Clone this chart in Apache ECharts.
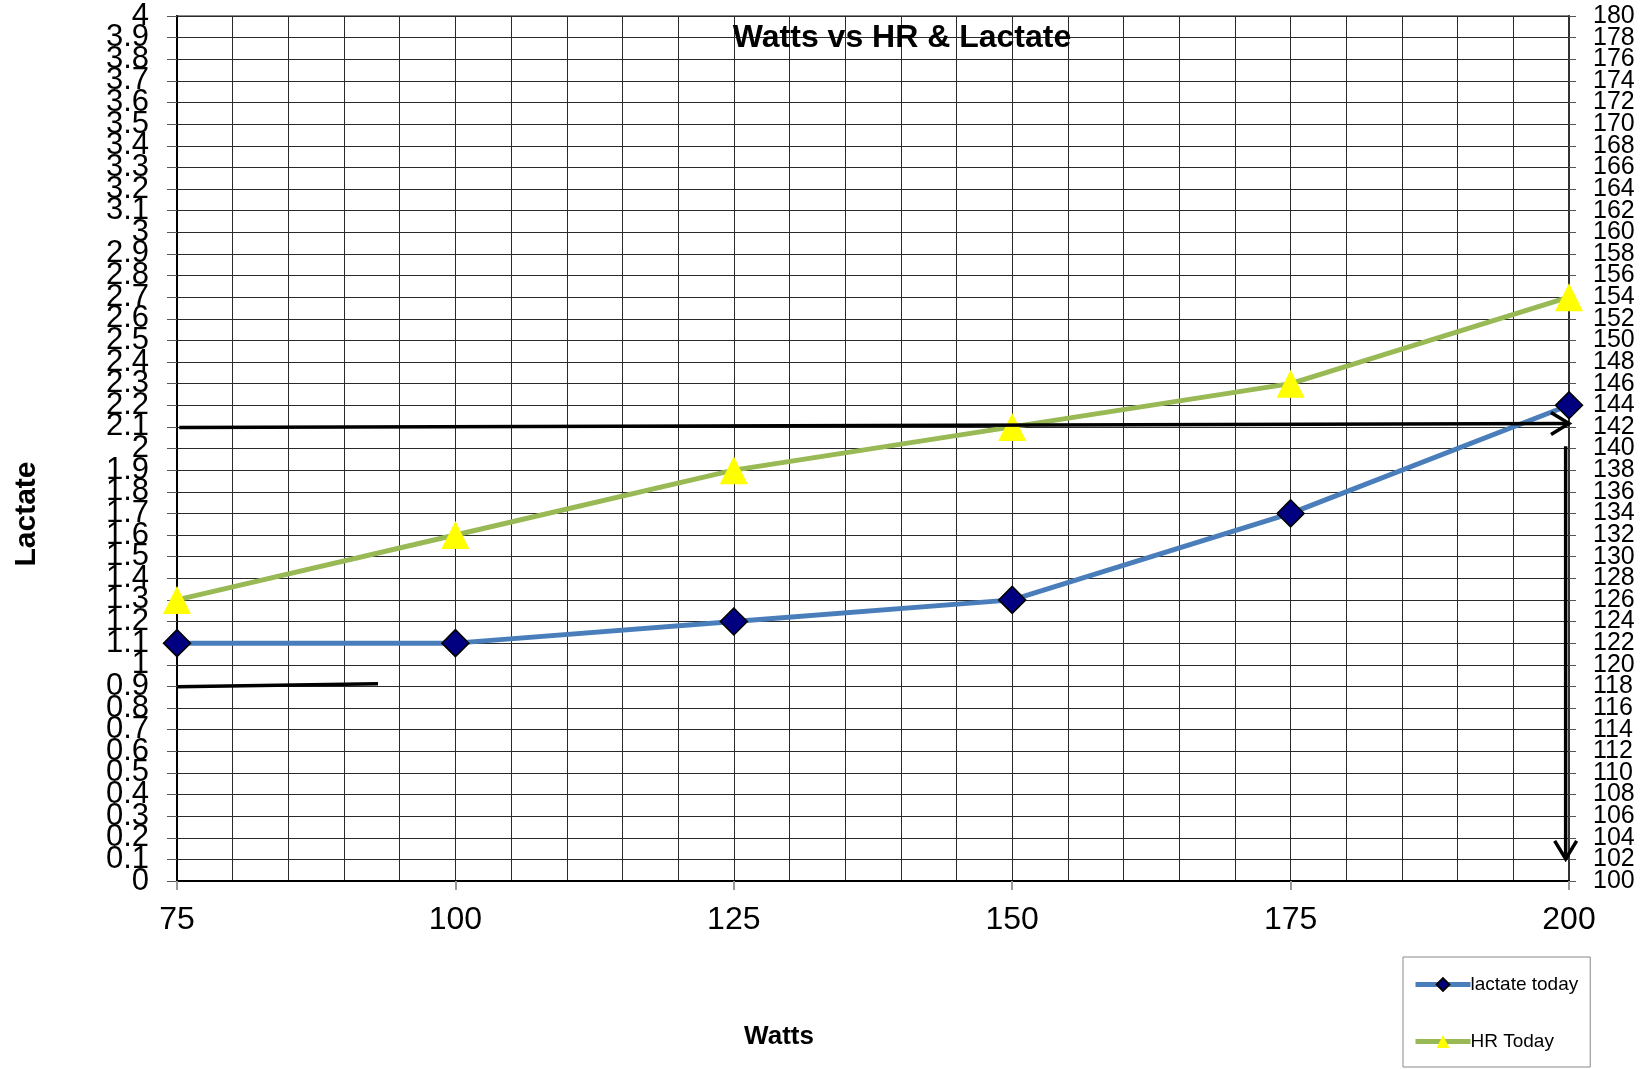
<!DOCTYPE html>
<html>
<head>
<meta charset="utf-8">
<script src="https://cdn.jsdelivr.net/npm/echarts@6/dist/echarts.min.js"></script>
<style>
html,body{margin:0;padding:0;background:#fff;}
#chart{width:1645px;height:1069px;}
</style>
</head>
<body>
<div id="chart"></div>
<script>
// ---- data ----
const watts = [75, 100, 125, 150, 175, 200];
const lactateToday = [1.1, 1.1, 1.2, 1.3, 1.7, 2.2];
const hrToday = [126, 132, 138, 142, 146, 154];
const seriesNames = ['lactate today', 'HR Today'];
const titleText = 'Watts vs HR & Lactate';
const xName = 'Watts';
const yName = 'Lactate';
const lactateRange = [0, 4];   // left axis min / max, step 0.1
const hrRange = [100, 180];    // right axis min / max, step 2
// hand-drawn annotation lines: [x1, y1, x2, y2, hasArrow] (data units: watts, lactate)
const annoLines = [
  [75.2, 2.097, 200, 2.116, 1],
  [199.7, 2.01, 199.7, 0.102, 1],
  [75, 0.898, 93.05, 0.912, 0]
];

const FONT = "'Liberation Sans', Arial, sans-serif";
const chart = echarts.init(document.getElementById('chart'), null, {renderer: 'canvas'});

const fmtL = v => String(+v.toFixed(1));
const isEnd = (v, r) => Math.abs(v - r[0]) < 1e-6 || Math.abs(v - r[1]) < 1e-6;

const leftLabel = {fontSize: 31, color: '#000', margin: 28, fontFamily: FONT, hideOverlap: false};
const rightLabel = {fontSize: 25, color: '#000', margin: 24, fontFamily: FONT, hideOverlap: false};

const option = {
  backgroundColor: '#ffffff',
  animation: false,
  textStyle: {fontFamily: FONT},
  grid: {left: 177, right: 76, top: 16, bottom: 188, show: true, borderColor: '#888', borderWidth: 2},
  graphic: [
    {type: 'text', x: 902, y: 38, z: 10, style: {text: titleText, font: "bold 32px " + FONT, fill: '#000', align: 'center', verticalAlign: 'middle'}},
    {type: 'text', x: 779, y: 1037, style: {text: xName, font: "bold 26px " + FONT, fill: '#000', align: 'center', verticalAlign: 'middle'}},
    {type: 'text', x: 27, y: 514, rotation: Math.PI / 2, style: {text: yName, font: "bold 30px " + FONT, fill: '#000', align: 'center', verticalAlign: 'middle'}}
  ],
  legend: {
    data: seriesNames,
    orient: 'vertical',
    left: 1403, top: 957,
    padding: [18, 12, 16, 10],
    itemWidth: 55, itemHeight: 16, itemGap: 38,
    borderColor: '#888', borderWidth: 1,
    lineStyle: {width: 5},
    textStyle: {fontSize: 19, color: '#000', fontFamily: FONT, padding: [0, 0, 0, -5]},
  },
  xAxis: {
    type: 'value', min: 75, max: 200, interval: 25,
    axisLine: {show: true, lineStyle: {color: '#000', width: 2}},
    axisTick: {show: true, length: 9, inside: false, lineStyle: {color: '#999', width: 2}},
    axisLabel: {fontSize: 32, color: '#000', margin: 23, fontFamily: FONT, showMinLabel: true, showMaxLabel: true},
    splitLine: {show: true, lineStyle: {color: '#2a2a2a', width: 1}},
    minorTick: {show: false, splitNumber: 5},
    minorSplitLine: {show: true, lineStyle: {color: '#2a2a2a', width: 1}}
  },
  yAxis: [
    {
      type: 'value', position: 'left', min: lactateRange[0], max: lactateRange[1], interval: 0.1,
      axisLine: {show: true, lineStyle: {color: '#000', width: 2}},
      axisTick: {show: true, length: 10, lineStyle: {color: '#555', width: 1}},
      axisLabel: Object.assign({}, leftLabel, {formatter: v => isEnd(v, lactateRange) ? '' : fmtL(v)}),
      splitLine: {show: true, lineStyle: {color: '#2a2a2a', width: 1}}
    },
    {
      type: 'value', position: 'right', min: hrRange[0], max: hrRange[1], interval: 2,
      axisLine: {show: true, lineStyle: {color: '#333', width: 2}},
      axisTick: {show: true, length: 7, lineStyle: {color: '#555', width: 1}},
      axisLabel: Object.assign({}, rightLabel, {formatter: v => isEnd(v, hrRange) ? '' : String(v)}),
      splitLine: {show: false}
    },
    {
      // duplicate left axis: shows only the end labels (0 and 4)
      type: 'value', position: 'left', min: lactateRange[0], max: lactateRange[1], interval: 0.1,
      axisLine: {show: false}, axisTick: {show: false}, splitLine: {show: false},
      axisLabel: Object.assign({}, leftLabel, {showMinLabel: true, showMaxLabel: true,
        formatter: v => isEnd(v, lactateRange) ? fmtL(v) : ''})
    },
    {
      // duplicate right axis: shows only the end labels (100 and 180)
      type: 'value', position: 'right', min: hrRange[0], max: hrRange[1], interval: 2,
      axisLine: {show: false}, axisTick: {show: false}, splitLine: {show: false},
      axisLabel: Object.assign({}, rightLabel, {showMinLabel: true, showMaxLabel: true,
        formatter: v => isEnd(v, hrRange) ? String(v) : ''})
    }
  ],
  series: [
    {
      name: seriesNames[0], type: 'line', yAxisIndex: 0,
      data: watts.map((w, i) => [w, lactateToday[i]]),
      lineStyle: {color: '#4A7EBB', width: 5},
      symbol: 'diamond', symbolSize: 27,
      itemStyle: {color: '#000080', borderColor: '#000', borderWidth: 1.5},
      z: 4
    },
    {
      name: seriesNames[1], type: 'line', yAxisIndex: 1,
      data: watts.map((w, i) => [w, hrToday[i]]),
      lineStyle: {color: '#98B954', width: 5},
      symbol: 'triangle', symbolSize: 28,
      itemStyle: {color: '#FFFF00', borderWidth: 0},
      z: 3
    },
    {
      name: 'annotations', type: 'custom', yAxisIndex: 0, z: 5,
      data: annoLines,
      encode: {x: [0, 2], y: [1, 3]},
      renderItem: function (params, api) {
        const p1 = api.coord([api.value(0), api.value(1)]);
        const p2 = api.coord([api.value(2), api.value(3)]);
        const children = [{
          type: 'line',
          shape: {x1: p1[0], y1: p1[1], x2: p2[0], y2: p2[1]},
          style: {stroke: '#000', lineWidth: 3.5}
        }];
        if (api.value(4)) {
          const dx = p2[0] - p1[0], dy = p2[1] - p1[1];
          const len = Math.sqrt(dx * dx + dy * dy);
          const ux = dx / len, uy = dy / len;
          const nx = -uy, ny = ux;
          const back = 18, half = 11;
          children.push({
            type: 'polyline',
            shape: {points: [
              [p2[0] - ux * back + nx * half, p2[1] - uy * back + ny * half],
              [p2[0], p2[1]],
              [p2[0] - ux * back - nx * half, p2[1] - uy * back - ny * half]
            ]},
            style: {stroke: '#000', lineWidth: 3.5, fill: null}
          });
        }
        return {type: 'group', children: children};
      }
    }
  ]
};
chart.setOption(option);
</script>
</body>
</html>
